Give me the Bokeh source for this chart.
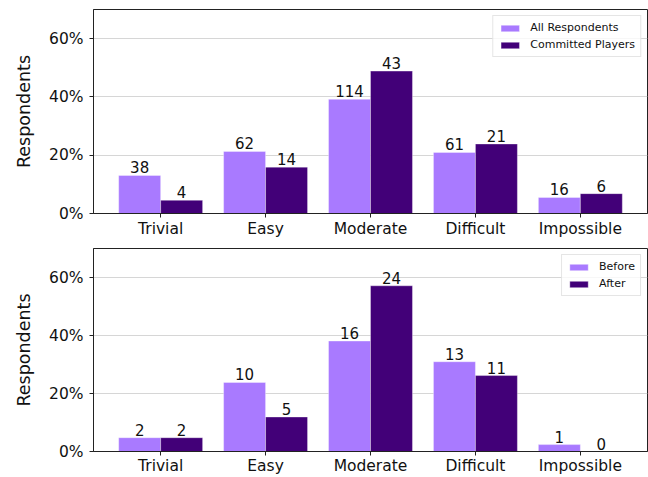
from bokeh.plotting import figure
from bokeh.models import ColumnDataSource, FixedTicker, NumeralTickFormatter, Range1d
from bokeh.layouts import column
from bokeh.embed import file_html
from bokeh.resources import INLINE
from bokeh.core.properties import value

# ---- data ----
categories = ["Trivial", "Easy", "Moderate", "Difficult", "Impossible"]
all_counts = [38, 62, 114, 61, 16]
committed_counts = [4, 14, 43, 21, 6]
before_counts = [2, 10, 16, 13, 1]
after_counts = [2, 5, 24, 11, 0]
y_ticks = [0, 0.2, 0.4, 0.6]

FONT = "DejaVu Sans"
LIGHT = "#a97aff"
DARK = "#420078"


def make(a_counts, b_counts, a_name, b_name, height, border_top, border_bottom,
         x_standoff):
    xs = list(range(len(categories)))
    a_pct = [c / sum(a_counts) for c in a_counts]
    b_pct = [c / sum(b_counts) for c in b_counts]
    p = figure(width=648, height=height,
               x_range=Range1d(-0.64, 4.64), y_range=Range1d(0, 0.70),
               output_backend="svg", toolbar_location=None,
               min_border_left=93, min_border_right=1,
               min_border_top=border_top, min_border_bottom=border_bottom)
    p.background_fill_color = "white"
    p.border_fill_color = "white"
    p.outline_line_color = "#222222"
    p.outline_line_width = 1

    src_a = ColumnDataSource(dict(x=[i - 0.2 for i in xs], top=a_pct,
                                  lab=[str(c) for c in a_counts]))
    src_b = ColumnDataSource(dict(x=[i + 0.2 for i in xs], top=b_pct,
                                  lab=[str(c) for c in b_counts]))
    p.vbar(x="x", top="top", width=0.4, source=src_a, fill_color=LIGHT,
           line_color="white", line_alpha=0.35, line_width=1, legend_label=a_name)
    p.vbar(x="x", top="top", width=0.4, source=src_b, fill_color=DARK,
           line_color="white", line_alpha=0.35, line_width=1, legend_label=b_name)
    for src in (src_a, src_b):
        p.text(x="x", y="top", text="lab", source=src, text_align="center",
               text_baseline="bottom", y_offset=-2,
               text_font=value(FONT), text_font_size="15px", text_color="#111111")

    # axes
    p.xaxis.ticker = FixedTicker(ticks=xs)
    p.xaxis.major_label_overrides = {i: c for i, c in enumerate(categories)}
    p.yaxis.ticker = FixedTicker(ticks=y_ticks)
    p.yaxis.formatter = NumeralTickFormatter(format="0%")
    for ax in (p.xaxis[0], p.yaxis[0]):
        ax.major_label_text_font = FONT
        ax.major_label_text_font_size = "15.5px"
        ax.major_label_text_color = "#111111"
        ax.major_tick_out = 4
        ax.major_tick_in = 0
        ax.minor_tick_out = 0
        ax.minor_tick_in = 0
        ax.axis_line_color = "#222222"
        ax.major_tick_line_color = "#222222"
    p.xaxis.major_label_standoff = x_standoff
    p.yaxis.major_label_standoff = 6
    p.yaxis.axis_label = "Respondents"
    p.yaxis.axis_label_text_font = FONT
    p.yaxis.axis_label_text_font_size = "17.5px"
    p.yaxis.axis_label_text_font_style = "normal"
    p.yaxis.axis_label_text_color = "#111111"
    p.yaxis.axis_label_standoff = 12

    p.xgrid.visible = False
    p.ygrid.grid_line_color = "#d6d6d6"
    p.ygrid.grid_line_width = 1

    lg = p.legend[0]
    lg.location = "top_right"
    lg.label_text_font = FONT
    lg.label_text_font_size = "11px"
    lg.label_text_color = "#111111"
    lg.glyph_width = 23
    lg.glyph_height = 8
    lg.label_height = 13
    lg.label_standoff = 9
    lg.padding = 5
    lg.spacing = 4
    lg.margin = 6
    lg.border_line_color = "#cccccc"
    lg.border_line_width = 1
    lg.background_fill_color = "white"
    lg.background_fill_alpha = 0.8
    return p


top = make(all_counts, committed_counts, "All Respondents", "Committed Players",
           240, 9, 27, 2)
bottom = make(before_counts, after_counts, "Before", "After", 237, 8, 23, 1)

layout = column(top, bottom, spacing=0)
open("out.html", "w").write(file_html(layout, INLINE))
